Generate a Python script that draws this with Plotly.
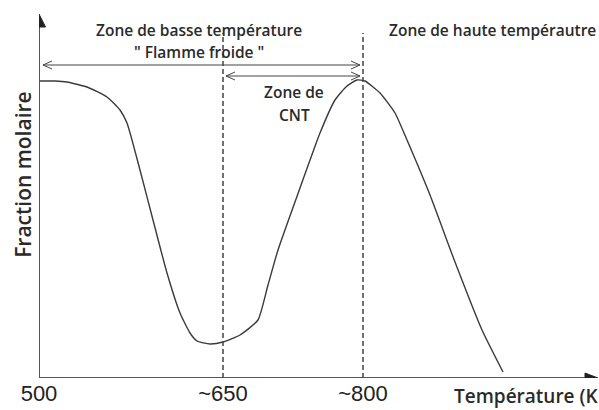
import plotly.graph_objects as go

# Schematic curve (arbitrary units; x: temperature position, y: molar fraction)
temp_pos = [1, 16, 28, 48, 68, 81, 88, 101, 114, 128, 141, 151, 158, 171, 184, 201, 219,
            229, 239, 261, 281, 296, 308, 318, 326, 341, 356, 368, 391, 416, 443, 464]
fraction = [297, 297, 296, 291, 281, 268, 255, 208, 158, 105, 65, 45, 37, 34, 36, 43, 58,
            93, 128, 190, 245, 278, 292, 298, 297, 285, 265, 238, 183, 116, 48, 6]

tick_pos = [0, 184, 324]
tick_text = ["500", "~650", "~800"]
zone_bounds = [184, 324]

TXT = "#2a2a2a"
AX = "#555555"
LBL_FONT = "Open Sans"

fig = go.Figure()
fig.add_trace(go.Scatter(x=temp_pos, y=fraction, mode="lines",
                         line=dict(color="#3a3a3a", width=1.4, shape="spline", smoothing=0.5),
                         hoverinfo="skip", showlegend=False))

shapes = []
# axes with arrows
shapes.append(dict(type="line", x0=0, y0=0, x1=550, y1=0, line=dict(color=AX, width=2)))
shapes.append(dict(type="path", path="M 559,0 L 546,5 L 546,-5 Z", fillcolor="#222", line=dict(color="#222", width=1)))
shapes.append(dict(type="line", x0=0, y0=0, x1=0, y1=355, line=dict(color=AX, width=2)))
shapes.append(dict(type="path", path="M 0,364 L -6.5,351 L 6.5,351 Z", fillcolor="#222", line=dict(color="#222", width=1)))
# dashed zone boundaries
for xb in zone_bounds:
    shapes.append(dict(type="line", x0=xb, y0=0, x1=xb, y1=345,
                       line=dict(color="#444", width=1.5, dash="5px,3px")))
# double arrows
for (xa, xbnd, yy) in [(4, 321, 313), (187, 321, 302)]:
    shapes.append(dict(type="line", x0=xa, y0=yy, x1=xbnd, y1=yy, line=dict(color="#444", width=1)))
    shapes.append(dict(type="path", path=f"M {xa+9},{yy+4} L {xa},{yy} L {xa+9},{yy-4}",
                       line=dict(color="#444", width=1)))
    shapes.append(dict(type="path", path=f"M {xbnd-9},{yy+4} L {xbnd},{yy} L {xbnd-9},{yy-4}",
                       line=dict(color="#444", width=1)))

ann = []
def txt(x, y, s, size=15.5, xanchor="center", angle=0, weight=600, ref="data"):
    ann.append(dict(x=x, y=y, xref="x" if ref == "data" else "paper",
                    yref="y" if ref == "data" else "paper", text=s, showarrow=False,
                    xanchor=xanchor, yanchor="middle", textangle=angle,
                    font=dict(family=LBL_FONT, size=size, color=TXT, weight=weight)))

txt(160, 348, "Zone de basse température")
txt(160, 326, "\" Flamme froide \"")
txt(453, 348, "Zone de haute tempérautre")
txt(255, 286, "Zone de", size=15.5)
txt(255, 263, "CNT", size=15.5)
txt(-0.0286, 0.54, "Fraction molaire", size=21, angle=-90, ref="paper")
txt(0.7375, -0.048, "Température (K", size=19, xanchor="left", ref="paper")

fig.update_layout(
    width=599, height=410,
    margin=dict(l=39, r=0, t=0, b=32),
    plot_bgcolor="white", paper_bgcolor="white",
    shapes=shapes, annotations=ann,
    xaxis=dict(range=[0, 560], showgrid=False, zeroline=False, showline=False,
               tickmode="array", tickvals=tick_pos, ticktext=tick_text, ticks="",
               tickfont=dict(family="Liberation Sans", size=22, color="#222")),
    yaxis=dict(range=[0, 378], showgrid=False, zeroline=False, showline=False,
               showticklabels=False, ticks=""),
)

fig.write_html("out.html", config={"displayModeBar": False},
               post_script="document.body.style.margin='0';document.body.style.overflow='hidden';")
